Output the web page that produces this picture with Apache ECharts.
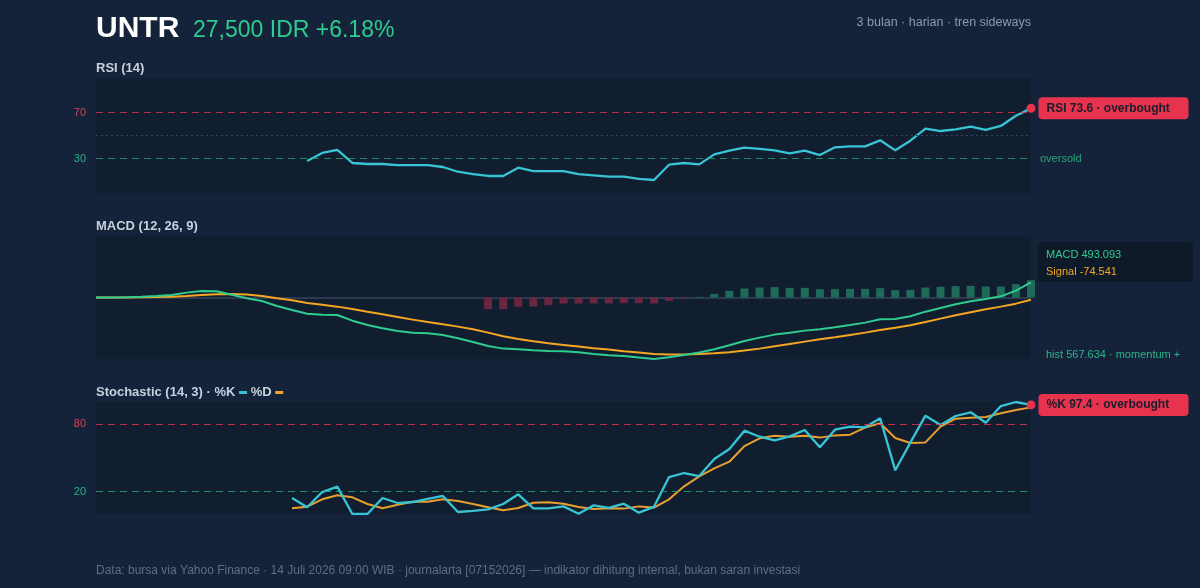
<!DOCTYPE html>
<html>
<head>
<meta charset="utf-8">
<title>UNTR indikator</title>
<script src="https://cdn.jsdelivr.net/npm/echarts@6/dist/echarts.min.js"></script>
<style>
  html, body { margin: 0; padding: 0; background: #15233a; }
  #chart { width: 1200px; height: 588px; }
</style>
</head>
<body>
<div id="chart"></div>
<script>
// trading days (3 months, daily)
const days = Array.from({ length: 63 }, (_, i) => "H" + (i + 1));

// RSI (14)
const rsi = [
  null, null, null, null, null, null, null, null, null, null, null, null, null, null,
  27.8, 34.8, 37.4, 26.1, 25.2, 25.2, 24.3, 24.3, 24.3, 22.6, 18.5, 16.5, 14.8, 14.8,
  22.0, 19.1, 19.1, 19.1, 16.5, 15.4, 14.2, 14.2, 12.2, 11.3, 24.6, 26.1, 24.9, 33.6,
  36.8, 39.4, 38.3, 37.1, 34.5, 36.8, 33.0, 39.7, 40.6, 40.6, 45.8, 37.1, 45.5, 55.9,
  53.9, 55.4, 57.7, 54.8, 58.3, 67.2, 73.6
];

// MACD (12, 26, 9)
const macdLine = [
  0, 0, 10, 26, 49, 82, 160, 213, 203, 92, -26, -115, -279, -410, -531, -564, -574,
  -761, -902, -1010, -1099, -1154, -1174, -1230, -1338, -1460, -1591, -1679, -1700,
  -1732, -1755, -1765, -1798, -1853, -1896, -1918, -1973, -2020, -1962, -1886, -1809,
  -1700, -1569, -1427, -1318, -1219, -1154, -1088, -1044, -978, -902, -825, -716, -705,
  -617, -465, -344, -224, -125, -49, 38, 224, 493.093
];
const signalLine = [
  0, 0, 0, 10, 20, 26, 49, 82, 105, 115, 100, 49, -26, -92, -180, -235, -300, -377,
  -465, -552, -640, -727, -803, -880, -957, -1044, -1154, -1274, -1361, -1438, -1503,
  -1558, -1613, -1667, -1711, -1765, -1809, -1853, -1875, -1875, -1853, -1831, -1798,
  -1744, -1679, -1602, -1525, -1449, -1372, -1307, -1230, -1154, -1066, -990, -913,
  -803, -694, -585, -486, -388, -300, -202, -74.541
];
const histogram = [
  null, null, null, null, null, null, null, null, null, null, null, null, null,
  null, null, null, null, null, null, null, null, null, null, null, null, null,
  -383, -383, -306, -295, -252, -197, -197, -197, -197, -186, -186, -197, -109, -33,
  22, 120, 219, 295, 328, 339, 317, 317, 273, 273, 284, 284, 306, 240, 251, 328, 350,
  372, 383, 361, 361, 437, 567.634
];

// Stochastic (14, 3)
const stochK = [
  null, null, null, null, null, null, null, null, null, null, null, null, null,
  14.3, 6.0, 19.6, 24.4, 0, 0, 14.3, 9.8, 10.7, 13.4, 16.1, 1.8, 2.7, 4.2, 8.9, 17.6,
  5.1, 5.1, 6.8, 0.3, 7.7, 5.4, 9.2, 1.2, 6.4, 33.0, 36.6, 33.9, 49.1, 58.0, 74.4, 69.0,
  65.8, 69.3, 75.0, 59.5, 75.3, 78.0, 77.4, 85.4, 39.0, 63.7, 87.8, 79.5, 87.5, 90.8,
  81.5, 96.4, 100, 97.4
];
const stochD = [
  null, null, null, null, null, null, null, null, null, null, null, null, null,
  5.1, 6.5, 13.1, 16.7, 14.9, 8.9, 5.1, 8.3, 11.0, 11.0, 13.1, 11.6, 8.9, 6.0, 3.3, 5.4,
  10.1, 10.4, 9.2, 6.3, 4.5, 5.1, 4.8, 6.8, 5.7, 13.1, 24.7, 33.6, 40.8, 46.7, 60.7, 67.6,
  69.9, 69.0, 69.9, 68.2, 70.2, 70.8, 77.1, 81.0, 67.9, 63.4, 63.9, 78.0, 85.1, 86.0,
  86.6, 89.9, 92.9, 95.2
];

const rsiLevels = [70, 30];
const stochLevels = [80, 20];
const lastIdx = days.length - 1;

const FONT = "'Liberation Sans', Arial, sans-serif";
const RED = "#e8334f";
const GREEN = "#2ecc8f";
const CYAN = "#38c4d4";
const ORANGE = "#f5a623";

const chart = echarts.init(document.getElementById("chart"));

function levelLine(value, color, type) {
  return {
    yAxis: value,
    lineStyle: { color: color, type: type, width: 1.2 },
    label: { show: false },
  };
}

function hiddenX(gridIndex) {
  return {
    type: "category",
    gridIndex: gridIndex,
    data: days,
    boundaryGap: false,
    axisLine: { show: false },
    axisTick: { show: false },
    axisLabel: { show: false },
    splitLine: { show: false },
  };
}

function levelAxis(gridIndex, levels) {
  return {
    type: "value",
    gridIndex: gridIndex,
    min: 0,
    max: 100,
    interval: 10,
    axisLine: { show: false },
    axisTick: { show: false },
    splitLine: { show: false },
    axisLabel: {
      margin: 10,
      fontSize: 11,
      fontFamily: FONT,
      formatter: v => (levels.indexOf(v) >= 0 ? String(v) : ""),
      color: v => (Number(v) === levels[0] ? "#d9405a" : "#2bb184"),
    },
  };
}

function badge(text) {
  return {
    show: true,
    position: "right",
    distance: 3,
    formatter: text,
    backgroundColor: RED,
    borderRadius: 4,
    padding: [5, 8],
    width: 134,
    color: "#1a1d2b",
    fontWeight: "bold",
    fontSize: 12,
    fontFamily: FONT,
  };
}

function txt(x, y, text, size, color, weight, extra) {
  return Object.assign({
    type: "text",
    left: x,
    top: y,
    silent: true,
    style: {
      text: text,
      fill: color,
      font: (weight || "normal") + " " + size + "px " + FONT,
    },
  }, extra || {});
}

const gridBase = {
  left: 96,
  right: 169,
  show: true,
  backgroundColor: "#111e30",
  borderWidth: 0,
};

const option = {
  backgroundColor: "#15233a",
  animation: false,
  grid: [
    Object.assign({ top: 78, height: 115 }, gridBase),
    Object.assign({ top: 236, height: 123 }, gridBase),
    Object.assign({ top: 402, height: 112 }, gridBase),
  ],
  xAxis: [hiddenX(0), hiddenX(1), hiddenX(2)],
  yAxis: [
    levelAxis(0, rsiLevels),
    {
      type: "value",
      gridIndex: 1,
      min: -2020,
      max: 2020,
      show: false,
      splitLine: { show: false },
    },
    levelAxis(2, stochLevels),
  ],
  graphic: [
    txt(96, 14, "UNTR", 30, "#ffffff", "bold"),
    txt(193, 19, "27,500 IDR +6.18%", 23, GREEN),
    { type: "text", right: 169, top: 16, silent: true,
      style: { text: "3 bulan · harian · tren sideways", fill: "#8d99ac", font: "12.5px " + FONT } },
    txt(96, 62, "RSI (14)", 13, "#c7d0dd", "bold"),
    txt(96, 220, "MACD (12, 26, 9)", 13, "#c7d0dd", "bold"),
    {
      type: "text",
      left: 96,
      top: 386,
      silent: true,
      style: {
        text: "{t|Stochastic (14, 3) · %K }{k|}{t| %D }{d|}",
        rich: {
          t: { fill: "#c7d0dd", font: "bold 13px " + FONT },
          k: { width: 8, height: 3, backgroundColor: CYAN },
          d: { width: 8, height: 3, backgroundColor: ORANGE },
        },
      },
    },
    {
      type: "rect",
      left: 1038,
      top: 242,
      silent: true,
      shape: { width: 155, height: 40, r: 4 },
      style: { fill: "#0f1a29" },
    },
    txt(1046, 249, "MACD " + macdLine[lastIdx].toFixed(3), 11, GREEN),
    txt(1046, 266, "Signal " + signalLine[lastIdx].toFixed(3), 11, ORANGE),
    txt(1046, 349, "hist " + histogram[lastIdx].toFixed(3) + " · momentum +", 11, "#29b487"),
    txt(96, 565, "Data: bursa via Yahoo Finance · 14 Juli 2026 09:00 WIB · journalarta [07152026] — indikator dihitung internal, bukan saran investasi", 12, "#5f6d84"),
  ],
  series: [
    {
      name: "RSI",
      type: "line",
      xAxisIndex: 0,
      yAxisIndex: 0,
      data: rsi,
      showSymbol: false,
      lineStyle: { color: CYAN, width: 2.3 },
      markLine: {
        silent: true,
        symbol: "none",
        data: [
          levelLine(70, "rgba(232,51,79,0.75)", [7, 5]),
          levelLine(50, "#34445c", [2, 3]),
          {
            yAxis: 30,
            lineStyle: { color: "rgba(42,170,125,0.75)", type: [7, 5], width: 1.2 },
            label: {
              show: true,
              position: "end",
              distance: 9,
              formatter: "oversold",
              color: "#2aa57c",
              fontSize: 11,
              fontFamily: FONT,
            },
          },
        ],
      },
      markPoint: {
        symbol: "circle",
        symbolSize: 9,
        itemStyle: { color: RED },
        data: [{ coord: [days[lastIdx], rsi[lastIdx]], label: badge("RSI " + rsi[lastIdx].toFixed(1) + " · overbought") }],
      },
    },
    {
      name: "Histogram",
      type: "bar",
      xAxisIndex: 1,
      yAxisIndex: 1,
      data: histogram,
      barWidth: 8,
      clip: false,
      itemStyle: {
        color: p => (p.value >= 0 ? "#1f6b5a" : "#6a2640"),
      },
      markLine: {
        silent: true,
        symbol: "none",
        z: 1,
        data: [{ yAxis: 0, lineStyle: { color: "#2c3a4f", type: "solid", width: 2 }, label: { show: false } }],
      },
    },
    {
      name: "Signal",
      type: "line",
      xAxisIndex: 1,
      yAxisIndex: 1,
      data: signalLine,
      showSymbol: false,
      lineStyle: { color: ORANGE, width: 2 },
    },
    {
      name: "MACD",
      type: "line",
      xAxisIndex: 1,
      yAxisIndex: 1,
      data: macdLine,
      showSymbol: false,
      lineStyle: { color: GREEN, width: 2 },
    },
    {
      name: "%D",
      type: "line",
      xAxisIndex: 2,
      yAxisIndex: 2,
      data: stochD,
      showSymbol: false,
      lineStyle: { color: "#e89f2e", width: 2 },
    },
    {
      name: "%K",
      type: "line",
      xAxisIndex: 2,
      yAxisIndex: 2,
      data: stochK,
      showSymbol: false,
      lineStyle: { color: CYAN, width: 2.3 },
      markLine: {
        silent: true,
        symbol: "none",
        data: [
          levelLine(80, "rgba(232,51,79,0.8)", [7, 5]),
          levelLine(20, "rgba(42,170,125,0.8)", [7, 5]),
        ],
      },
      markPoint: {
        symbol: "circle",
        symbolSize: 9,
        itemStyle: { color: RED },
        data: [{ coord: [days[lastIdx], stochK[lastIdx]], label: badge("%K " + stochK[lastIdx].toFixed(1) + " · overbought") }],
      },
    },
  ],
};

chart.setOption(option);
</script>
</body>
</html>
